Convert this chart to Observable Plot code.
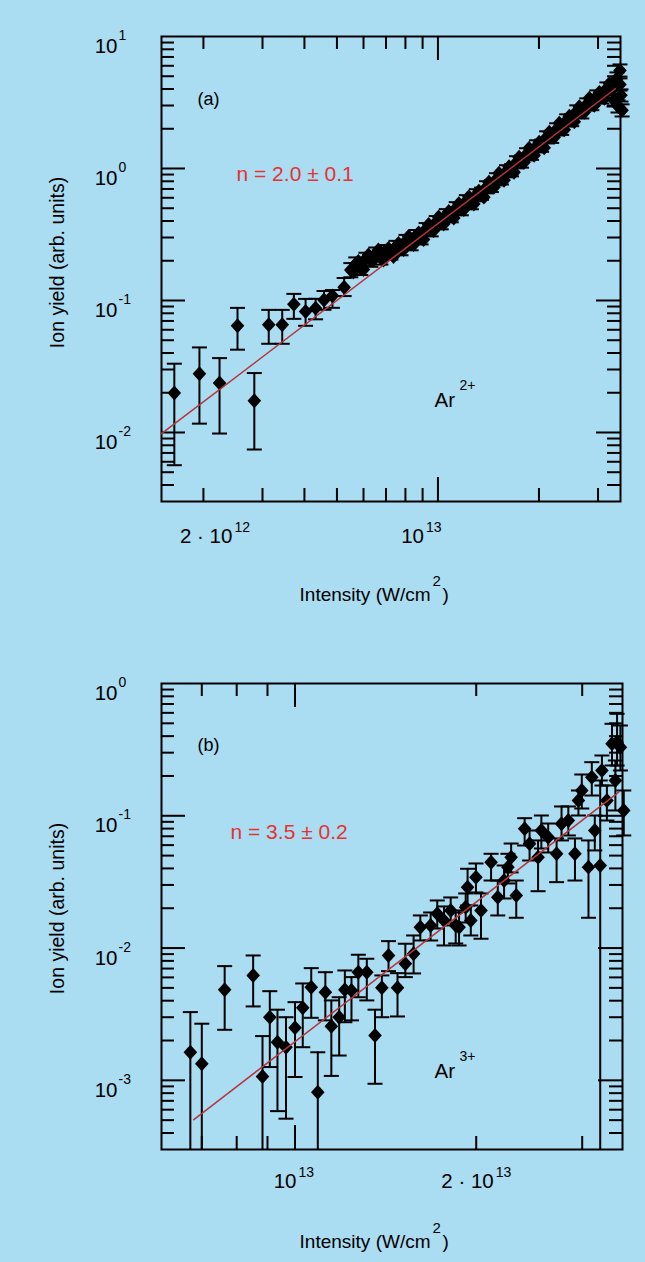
<!DOCTYPE html>
<html><head><meta charset="utf-8">
<script src="https://cdn.jsdelivr.net/npm/d3@7"></script>
<script src="https://cdn.jsdelivr.net/npm/@observablehq/plot@0.6"></script>
<style>
html,body{margin:0;padding:0;background:#aadcf2;width:645px;height:1262px;overflow:hidden}
svg{display:block}
</style></head><body><div id="chart"></div>
<script>
// ---------------- Panel (a): Ar2+ ----------------
const ar2LowIntensity = [1.638e12, 1.946e12, 2.234e12, 2.527e12, 2.836e12, 3.131e12, 3.435e12, 3.72e12, 4.032e12, 4.319e12, 4.575e12, 4.848e12, 5.253e12];
const ar2LowYield     = [0.0199, 0.0279, 0.0237, 0.0643, 0.0174, 0.0655, 0.0655, 0.0938, 0.0824, 0.0875, 0.101, 0.1084, 0.1262];
const ar2LowErrMin    = [0.00565, 0.01167, 0.00982, 0.0424, 0.00743, 0.047, 0.047, 0.0726, 0.0643, 0.072, 0.085, 0.088, 0.108];
const ar2LowErrMax    = [0.0332, 0.0441, 0.0366, 0.0879, 0.0282, 0.0849, 0.0849, 0.1122, 0.1028, 0.103, 0.118, 0.120, 0.148];
const ar2BandIntensity = [5.50e12, 5.69e12, 5.89e12, 6.10e12, 6.31e12, 6.53e12, 6.76e12, 7.00e12, 7.24e12, 7.50e12, 7.76e12, 8.03e12, 8.32e12, 8.61e12, 8.91e12, 9.22e12, 9.545e12, 9.88e12, 10.23e12, 10.59e12, 10.96e12, 11.34e12, 11.74e12, 12.15e12, 12.58e12, 13.02e12, 13.48e12, 13.95e12, 14.43e12, 14.94e12, 15.46e12, 16.01e12, 16.57e12, 17.15e12, 17.75e12, 18.37e12, 19.01e12, 19.68e12, 20.37e12, 21.09e12, 21.83e12, 22.59e12, 23.38e12, 24.20e12, 25.05e12, 25.93e12, 26.84e12, 27.78e12, 28.75e12, 29.76e12, 30.80e12, 31.88e12, 33.00e12, 34.16e12, 34.87e12, 33.47e12, 34.41e12, 35.12e12, 34.87e12, 35.38e12];
const ar2BandYield     = [0.1703, 0.1890, 0.1764, 0.2063, 0.2027, 0.2250, 0.2099, 0.2370, 0.2290, 0.2542, 0.2455, 0.2821, 0.2679, 0.3077, 0.2973, 0.3477, 0.3417, 0.3926, 0.3858, 0.4436, 0.4360, 0.5012, 0.4926, 0.5660, 0.5467, 0.628, 0.645, 0.722, 0.738, 0.830, 0.842, 0.954, 0.971, 1.116, 1.130, 1.283, 1.295, 1.474, 1.49, 1.724, 1.74, 1.982, 2.0, 2.318, 2.33, 2.711, 2.665, 3.062, 3.08, 3.52, 3.459, 4.046, 3.976, 4.814, 4.337, 3.284, 2.958, 3.581, 5.534, 2.759];
const ar2BandErrMin    = [0.150, 0.168, 0.156, 0.184, 0.180, 0.200, 0.187, 0.212, 0.204, 0.227, 0.220, 0.252, 0.240, 0.276, 0.266, 0.312, 0.306, 0.352, 0.346, 0.398, 0.391, 0.450, 0.442, 0.508, 0.491, 0.564, 0.579, 0.648, 0.663, 0.745, 0.756, 0.857, 0.872, 1.002, 1.015, 1.152, 1.163, 1.324, 1.338, 1.548, 1.563, 1.780, 1.796, 2.082, 2.092, 2.434, 2.393, 2.750, 2.766, 3.161, 3.106, 3.633, 3.571, 4.323, 3.895, 2.949, 2.656, 3.216, 4.970, 2.478];
const ar2BandErrMax    = [0.192, 0.212, 0.198, 0.230, 0.227, 0.252, 0.235, 0.263, 0.256, 0.283, 0.274, 0.314, 0.298, 0.342, 0.330, 0.386, 0.380, 0.436, 0.428, 0.492, 0.484, 0.556, 0.547, 0.628, 0.607, 0.697, 0.716, 0.801, 0.819, 0.921, 0.935, 1.059, 1.078, 1.239, 1.254, 1.424, 1.437, 1.636, 1.654, 1.914, 1.931, 2.200, 2.220, 2.573, 2.586, 3.009, 2.958, 3.399, 3.419, 3.907, 3.839, 4.491, 4.413, 5.344, 4.814, 3.645, 3.283, 3.975, 6.143, 3.062];
// further points (no visible error bars)
const ar2DenseIntensity = [5.595e12, 5.79e12, 5.995e12, 6.205e12, 6.42e12, 6.645e12, 6.88e12, 7.12e12, 7.37e12, 7.63e12, 7.90e12, 8.175e12, 8.46e12, 8.76e12, 9.06e12, 9.38e12, 9.71e12, 10.05e12, 10.40e12, 10.77e12, 11.15e12, 11.54e12, 11.94e12, 12.36e12, 12.79e12, 13.24e12, 13.71e12, 14.19e12, 14.69e12, 15.20e12, 15.74e12, 16.29e12, 16.86e12, 17.45e12, 18.06e12, 18.69e12, 19.35e12, 20.03e12, 20.73e12, 21.46e12, 22.21e12, 22.99e12, 23.79e12, 24.63e12, 25.49e12, 26.38e12, 27.31e12, 28.26e12, 29.26e12, 30.28e12, 31.35e12, 32.44e12, 33.59e12];
const ar2DenseYield     = [0.1645, 0.1975, 0.1718, 0.2212, 0.2027, 0.2412, 0.2027, 0.2476, 0.2154, 0.2702, 0.2433, 0.3051, 0.2655, 0.3243, 0.2895, 0.3760, 0.3388, 0.4283, 0.3793, 0.4716, 0.4210, 0.5418, 0.4884, 0.6117, 0.5372, 0.6737, 0.6067, 0.7877, 0.7225, 0.9215, 0.8156, 1.032, 0.9376, 1.217, 1.116, 1.424, 1.260, 1.580, 1.436, 1.881, 1.724, 2.199, 1.965, 2.485, 2.258, 2.932, 2.665, 3.400, 3.010, 3.773, 3.400, 4.412, 4.117];
const ar2FitIntensity = [1.5e12, 3.38e13];
const ar2FitYield     = [0.0098, 4.02];
const ar2YTickLabels  = [10, 1, 0.1, 0.01];
const ar2YTickExp     = ["1", "0", "-1", "-2"];

// ---------------- Panel (b): Ar3+ ----------------
const ar3Intensity = [6.70e12, 7.00e12, 7.64e12, 8.52e12, 8.83e12, 9.08e12, 9.35e12, 9.66e12, 10.0e12, 10.30e12, 10.64e12, 10.91e12, 11.23e12, 11.49e12, 11.84e12, 12.10e12, 12.41e12, 12.74e12, 13.16e12, 13.58e12, 13.94e12, 14.30e12, 14.80e12, 15.25e12, 15.74e12, 16.15e12, 16.80e12, 17.23e12, 17.68e12, 18.14e12, 18.49e12, 18.73e12, 19.21e12, 19.35e12, 19.59e12, 19.98e12, 20.37e12, 21.17e12, 21.72e12, 22.25e12, 22.58e12, 22.86e12, 23.31e12, 24.07e12, 24.53e12, 25.34e12, 25.66e12, 26.34e12, 27.20e12, 27.72e12, 28.45e12, 29.18e12, 29.57e12, 29.95e12, 30.73e12, 31.12e12, 31.48e12, 32.14e12, 32.35e12, 32.97e12, 33.62e12, 34.06e12, 34.28e12, 34.72e12, 35.17e12];
const ar3Yield     = [1.633e-3, 1.335e-3, 4.84e-3, 6.21e-3, 1.07e-3, 3.00e-3, 1.94e-3, 1.78e-3, 2.50e-3, 3.54e-3, 5.06e-3, 8.14e-4, 4.64e-3, 2.56e-3, 3.00e-3, 4.84e-3, 4.78e-3, 6.57e-3, 6.57e-3, 2.18e-3, 5.01e-3, 8.79e-3, 5.01e-3, 7.61e-3, 9.06e-3, 1.439e-2, 1.482e-2, 1.816e-2, 1.616e-2, 1.924e-2, 1.482e-2, 1.439e-2, 2.038e-2, 2.886e-2, 1.616e-2, 3.435e-2, 1.924e-2, 4.46e-2, 2.425e-2, 3.24e-2, 4.09e-2, 4.86e-2, 2.497e-2, 7.97e-2, 6.14e-2, 4.86e-2, 7.74e-2, 6.89e-2, 5.16e-2, 8.70e-2, 9.21e-2, 5.16e-2, 0.1305, 0.1553, 4.09e-2, 0.1957, 7.74e-2, 4.21e-2, 0.2200, 0.1305, 0.350, 0.1848, 0.360, 0.330, 0.1097];
const ar3ErrMin    = [0, 0, 2.41e-3, 3.62e-3, 0, 1.26e-3, 5.85e-4, 5.13e-4, 1.06e-3, 1.78e-3, 2.97e-3, 0, 2.84e-3, 1.08e-3, 1.54e-3, 2.75e-3, 2.84e-3, 4.25e-3, 4.02e-3, 9.42e-4, 3.00e-3, 6.69e-3, 3.04e-3, 6.03e-3, 6.43e-3, 1.141e-2, 1.141e-2, 1.406e-2, 1.046e-2, 1.482e-2, 1.083e-2, 1.046e-2, 1.561e-2, 2.099e-2, 1.245e-2, 2.633e-2, 1.176e-2, 3.24e-2, 1.764e-2, 2.37e-2, 3.08e-2, 3.73e-2, 1.694e-2, 5.96e-2, 4.59e-2, 2.69e-2, 5.66e-2, 5.28e-2, 3.15e-2, 6.51e-2, 7.10e-2, 3.24e-2, 0.1005, 0.1135, 1.694e-2, 0.1423, 5.47e-2, 0, 0.1694, 9.21e-2, 0.240, 0.1097, 0.240, 0.220, 7.10e-2];
const ar3ErrMax    = [3.28e-3, 2.68e-3, 7.30e-3, 8.79e-3, 2.16e-3, 4.72e-3, 3.42e-3, 3.00e-3, 3.90e-3, 5.40e-3, 7.05e-3, 1.63e-3, 6.57e-3, 4.02e-3, 4.25e-3, 6.77e-3, 6.03e-3, 8.90e-3, 8.30e-3, 3.42e-3, 6.21e-3, 1.128e-2, 6.46e-3, 1.078e-2, 1.245e-2, 1.764e-2, 1.858e-2, 2.29e-2, 2.063e-2, 2.413e-2, 1.858e-2, 1.924e-2, 2.587e-2, 3.975e-2, 2.099e-2, 4.36e-2, 2.587e-2, 5.16e-2, 3.24e-2, 4.21e-2, 5.16e-2, 6.17e-2, 3.24e-2, 9.59e-2, 7.74e-2, 6.51e-2, 0.1005, 8.74e-2, 6.74e-2, 0.1176, 0.1176, 6.74e-2, 0.1553, 0.2051, 6.51e-2, 0.2542, 0.1005, 0.1848, 0.2856, 0.1694, 0.4959, 0.2618, 0.590, 0.4815, 0.1553];
const ar3FitIntensity = [6.79e12, 3.45e13];
const ar3FitYield     = [5.04e-4, 0.1508];
const ar3YTickLabels  = [1, 0.1, 0.01, 0.001];
const ar3YTickExp     = ["0", "-1", "-2", "-3"];

// ---------------- helpers ----------------
const FONT = "'Liberation Sans', Arial, Helvetica, sans-serif";
const diamond = { draw(ctx, size) { const s = Math.sqrt(size / Math.PI); const h = s * 1.1;
  ctx.moveTo(0, -h); ctx.lineTo(s, 0); ctx.lineTo(0, h); ctx.lineTo(-s, 0); ctx.closePath(); } };
const capSym = { draw(ctx, size) { const s = Math.sqrt(size / Math.PI); ctx.moveTo(-s, 0); ctx.lineTo(s, 0); } };
const T = (data, o) => Plot.text(data, {fontFamily: FONT, fill: "black", ...o});
const one = (s) => [s];

function makePanel(p) {
  const fw = 645 - p.ml - p.mr, fh = p.h - p.mt - p.mb;
  const inside = (dom) => (v) => v > dom[0] * 1.001 && v < dom[1] * 0.999;
  const xt = d3.scaleLog().domain(p.xDomain).ticks().filter(inside(p.xDomain));
  const yt = d3.scaleLog().domain(p.yDomain).ticks().filter(inside(p.yDomain));
  const isMaj = v => Math.abs(Math.log10(v) - Math.round(Math.log10(v))) < 1e-6;
  const xMaj = xt.filter(isMaj), xMin = xt.filter(v => !isMaj(v));
  const yMaj = yt.filter(isMaj), yMin = yt.filter(v => !isMaj(v));
  const tk = {stroke: "black", strokeWidth: 2};
  const L1 = 13, L2 = 24;
  const ymin = p.yDomain[0];
  const marks = [
    Plot.tickX(xMin, {x: d => d, insetTop: fh - L1, ...tk}),
    Plot.tickX(xMin, {x: d => d, insetBottom: fh - L1, ...tk}),
    Plot.tickX(xMaj, {x: d => d, insetTop: fh - L2, ...tk}),
    Plot.tickX(xMaj, {x: d => d, insetBottom: fh - L2, ...tk}),
    Plot.tickY(yMin, {y: d => d, insetRight: fw - L1, ...tk}),
    Plot.tickY(yMin, {y: d => d, insetLeft: fw - L1, ...tk}),
    Plot.tickY(yMaj, {y: d => d, insetRight: fw - L2, ...tk}),
    Plot.tickY(yMaj, {y: d => d, insetLeft: fw - L2, ...tk}),
    Plot.frame({stroke: "black", strokeWidth: 2}),
    // error bars
    Plot.ruleX(p.err, {x: "x", y1: d => d.lo > 0 ? d.lo : ymin, y2: "hi", stroke: "black", strokeWidth: 2}),
    Plot.dot(p.err.filter(d => d.lo > 0), {x: "x", y: "lo", symbol: capSym, r: 7.5, stroke: "black", strokeWidth: 2, fill: "none"}),
    Plot.dot(p.err, {x: "x", y: "hi", symbol: capSym, r: 7.5, stroke: "black", strokeWidth: 2, fill: "none"}),
    // markers
    Plot.dot(p.pts, {x: "x", y: "y", symbol: diamond, r: 6.8, fill: "black", stroke: "none"}),
    // fit
    Plot.line(p.fit, {x: "x", y: "y", stroke: "#b8353c", strokeWidth: 1.5}),
    // y tick labels
    T(p.yLab, {y: d => d, frameAnchor: "left", text: () => "10", textAnchor: "end", dx: -44, dy: 10, fontSize: 20.5}),
    T(p.yLab, {y: d => d, frameAnchor: "left", text: (d, i) => p.yExp[i], textAnchor: "start", dx: -43, dy: -1, fontSize: 14}),
    // x title
    T(one("Intensity (W/cm"), {frameAnchor: "bottom", text: d => d, textAnchor: "end", dx: p.xt.dx, dy: p.xt.dy, fontSize: 19}),
    T(one("2"), {frameAnchor: "bottom", text: d => d, textAnchor: "start", dx: p.xt.dx + 2, dy: p.xt.dy - 15, fontSize: 15}),
    T(one(")"), {frameAnchor: "bottom", text: d => d, textAnchor: "start", dx: p.xt.dx + 12, dy: p.xt.dy, fontSize: 19}),
    // y title
    T(one("Ion yield (arb. units)"), {frameAnchor: "left", text: d => d, textAnchor: "middle", rotate: -90, dx: -104, dy: p.ytDy, fontSize: 19.5}),
    // panel letter + exponent text
    T(one(p.letter), {frameAnchor: "top-left", text: d => d, textAnchor: "start", dx: 36, dy: p.letterDy, fontSize: 18}),
    T(one(p.nText), {frameAnchor: "top-left", text: d => d, textAnchor: "start", dx: p.nDx, dy: p.nDy, fontSize: 21, fill: "#e8322f"}),
    T(one("Ar"), {frameAnchor: "top-left", text: d => d, textAnchor: "start", dx: 273, dy: p.arDy, fontSize: 20.5}),
    T(one(p.ion), {frameAnchor: "top-left", text: d => d, textAnchor: "start", dx: 298, dy: p.arDy - 12, fontSize: 14}),
    ...p.xLabels.flatMap(l => [
      T(one(l.at), {x: d => d, frameAnchor: "bottom", text: () => l.base, textAnchor: "end", dx: l.dx, dy: p.xlDy, fontSize: 20.5}),
      T(one(l.at), {x: d => d, frameAnchor: "bottom", text: () => l.exp, textAnchor: "start", dx: l.dx + 2, dy: p.xlDy - 11, fontSize: 14})
    ])
  ];
  return Plot.plot({
    width: 645, height: p.h,
    marginTop: p.mt, marginBottom: p.mb, marginLeft: p.ml, marginRight: p.mr,
    x: {type: "log", domain: p.xDomain, axis: null},
    y: {type: "log", domain: p.yDomain, axis: null},
    style: {background: "transparent", fontFamily: FONT, overflow: "visible"},
    marks
  });
}

const ptsA = ar2LowIntensity.map((x, i) => ({x, y: ar2LowYield[i]}))
  .concat(ar2BandIntensity.map((x, i) => ({x, y: ar2BandYield[i]})))
  .concat(ar2DenseIntensity.map((x, i) => ({x, y: ar2DenseYield[i]})));
const errA = ar2LowIntensity.map((x, i) => ({x, lo: ar2LowErrMin[i], hi: ar2LowErrMax[i]}))
  .concat(ar2BandIntensity.map((x, i) => ({x, lo: ar2BandErrMin[i], hi: ar2BandErrMax[i]})));
const fitA = ar2FitIntensity.map((x, i) => ({x, y: ar2FitYield[i]}));

const ptsB = ar3Intensity.map((x, i) => ({x, y: ar3Yield[i]}));
const errB = ar3Intensity.map((x, i) => ({x, lo: ar3ErrMin[i], hi: ar3ErrMax[i]}));
const fitB = ar3FitIntensity.map((x, i) => ({x, y: ar3FitYield[i]}));

const chart = document.getElementById("chart");
chart.append(makePanel({
  h: 630, mt: 36, mb: 129, ml: 161, mr: 25,
  xDomain: [1.5e12, 3.5e13], yDomain: [3e-3, 10],
  pts: ptsA, err: errA, fit: fitA,
  yLab: ar2YTickLabels, yExp: ar2YTickExp,
  xLabels: [{at: 2e12, base: "2 · 10", exp: "12", dx: 29}, {at: 1e13, base: "10", exp: "13", dx: -14}],
  xlDy: 41.5, xt: {dx: 39.5, dy: 99}, ytDy: -6.5,
  letter: "(a)", letterDy: 56, nText: "n = 2.0 ± 0.1", nDx: 75, nDy: 130,
  ion: "2+", arDy: 356
}));
chart.append(makePanel({
  h: 632, mt: 53, mb: 113, ml: 161, mr: 23,
  xDomain: [6e12, 3.5e13], yDomain: [3e-4, 1],
  pts: ptsB, err: errB, fit: fitB,
  yLab: ar3YTickLabels, yExp: ar3YTickExp,
  xLabels: [{at: 1e13, base: "10", exp: "13", dx: 1.5}, {at: 2e13, base: "2 · 10", exp: "13", dx: 17.5}],
  xlDy: 38.5, xt: {dx: 38.5, dy: 98.5}, ytDy: -8,
  letter: "(b)", letterDy: 55, nText: "n = 3.5 ± 0.2", nDx: 69, nDy: 141,
  ion: "3+", arDy: 380
}));
</script></body></html>
